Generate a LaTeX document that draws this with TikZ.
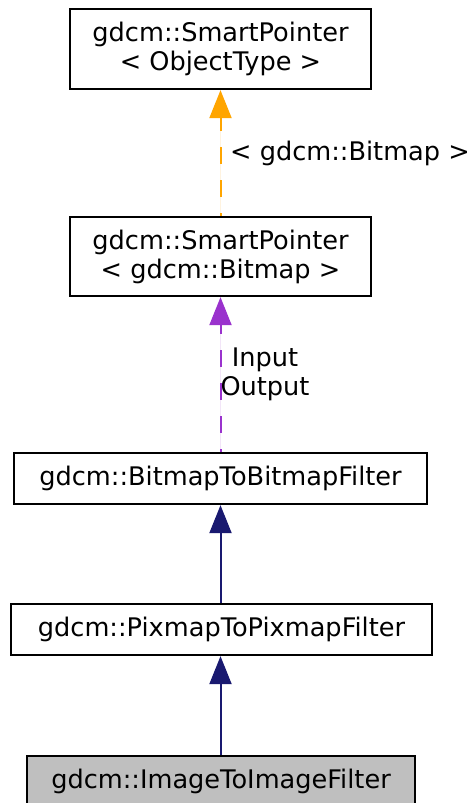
\documentclass[tikz,border=0pt]{standalone}
\usepackage{fontspec}
\setmainfont{DejaVu Sans}
\usetikzlibrary{arrows.meta}
\definecolor{edgeorange}{HTML}{FFA500}
\definecolor{edgepurple}{HTML}{9A32CD}
\definecolor{edgenavy}{HTML}{191970}
\definecolor{boxgray}{HTML}{BFBFBF}
\begin{document}
\begin{tikzpicture}[x=1pt,y=-1pt,
  every node/.style={font=\fontsize{25.6}{29}\selectfont},
  cls/.style={draw=black,line width=2.3pt,rectangle,inner sep=0pt,align=center,fill=white},
  lbl/.style={inner sep=0pt,align=center},
  tip/.style={-{Triangle[width=22pt,length=28pt]}},
  inh/.style={tip,draw=edgenavy,fill=edgenavy,line width=2pt},
  uses/.style={tip,line width=2pt,dash pattern=on 17pt off 16pt,dash phase=14pt},
]
\clip (0,0) rectangle (471,803);
\fill[white] (0,0) rectangle (471,803);
\node[cls,minimum width=301pt,minimum height=80pt] (sp) at (220.5,49) {gdcm::SmartPointer\\\textless{} ObjectType \textgreater{}};
\node[cls,minimum width=301pt,minimum height=79pt] (spb) at (220.5,256.5) {gdcm::SmartPointer\\\textless{} gdcm::Bitmap \textgreater{}};
\node[cls,minimum width=413pt,minimum height=51pt] (bbf) at (220.5,478.5) {gdcm::BitmapToBitmapFilter};
\node[cls,minimum width=421pt,minimum height=51pt] (ppf) at (221.5,629.5) {gdcm::PixmapToPixmapFilter};
\node[cls,fill=boxgray,minimum width=388pt,minimum height=51pt] (iif) at (221,781.5) {gdcm::ImageToImageFilter};
\draw[uses,draw=edgeorange,fill=edgeorange] (spb.north) -- (sp.south);
\draw[uses,draw=edgepurple,fill=edgepurple] (bbf.north) -- (spb.south);
\draw[inh] (ppf.north -| bbf.north) -- (bbf.south);
\draw[inh] (iif.north -| bbf.north) -- (ppf.south -| bbf.north);
\node[lbl,anchor=west] (l1) at (230,153) {\textless{} gdcm::Bitmap \textgreater{}};
\node[lbl] (l2) at (265,374) {Input\\Output};
\end{tikzpicture}
\end{document}
